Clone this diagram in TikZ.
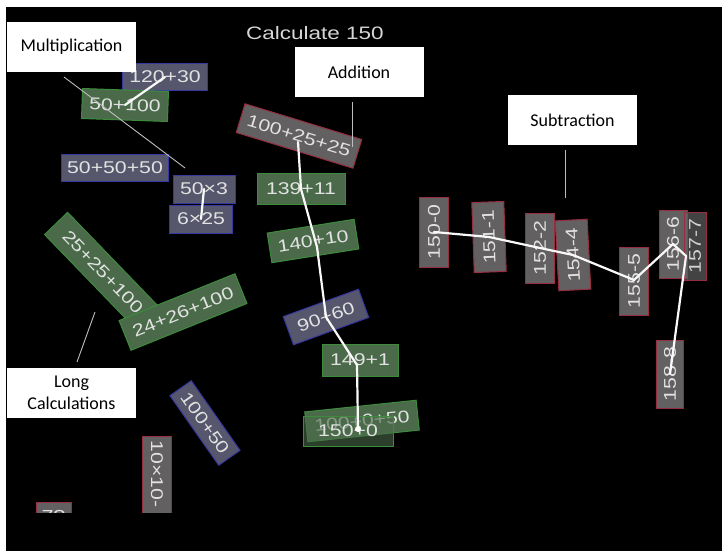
\documentclass[tikz,border=0pt]{standalone}
\usepackage{fontspec}
\usetikzlibrary{calc}
\newfontfamily\tilefont[FakeStretch=1.25]{Liberation Sans}
\newfontfamily\titlefont[FakeStretch=1.25]{Liberation Sans}
\newfontfamily\calloutfont{Carlito}
\definecolor{gfill}{RGB}{74,106,74}
\definecolor{gdraw}{RGB}{60,140,60}
\definecolor{bfill}{RGB}{86,86,108}
\definecolor{bdraw}{RGB}{55,55,160}
\definecolor{rfill}{RGB}{98,96,96}
\definecolor{rdraw}{RGB}{150,45,65}
\definecolor{tiletext}{RGB}{226,226,226}
\definecolor{titletext}{RGB}{214,214,214}
\definecolor{calloutline}{RGB}{190,190,190}
\begin{document}
\begin{tikzpicture}[x=1pt,y=-1pt,
  tile/.style={rectangle, inner xsep=4pt, inner ysep=0pt, minimum height=28pt,
    text=tiletext, line width=1pt, font=\tilefont\fontsize{17}{17}\selectfont},
  gtile/.style={tile, fill=gfill, draw=gdraw},
  btile/.style={tile, fill=bfill, draw=bdraw},
  rtile/.style={tile, fill=rfill, draw=rdraw},
  link/.style={draw=white!95!gray, line width=2.2pt, line cap=round, line join=round},
  callout/.style={rectangle, fill=white, inner sep=0pt, minimum width=129pt,
    minimum height=50pt, align=center, text=black,
    font=\calloutfont\fontsize{18}{22}\selectfont},
  pointer/.style={draw=calloutline, line width=0.9pt}]

% frame: white margin on the top and left, black camera view
\fill[white] (0,0) rectangle (722,551);
\fill[black] (6,7) rectangle (722,551);
\useasboundingbox (0,0) rectangle (722,551);

% title
\node[text=titletext, font=\titlefont\fontsize{18}{18}\selectfont] (title) at (315,33) {Calculate 150};

% multiplication group
\node[btile, minimum width=85pt, minimum height=27pt] (t120) at (165,77) {120+30};
\node[gtile, minimum width=86pt, minimum height=30pt, rotate=-2] (t50100) at (125,105) {50+100};
\node[btile, minimum width=107pt, minimum height=27pt] (t505050) at (115,168) {50+50+50};
\node[btile, minimum width=62pt] (t50x3) at (204,189) {50×3};
\node[btile, minimum width=63pt] (t6x25) at (201,219) {6×25};

% long calculations
\node[gtile, minimum width=135pt, minimum height=32pt, rotate=-46] (t252525) at (103,272) {25+25+100};
\node[gtile, minimum width=125pt, minimum height=32pt, rotate=22] (t242626) at (183,312) {24+26+100};
\node[btile, minimum width=85pt, minimum height=26pt, rotate=-55] (t10050) at (205,423) {100+50};

% tiles running off the lower edge of the view
\begin{scope}
  \clip (0,0) rectangle (722,512);
  \node[rtile, text width=92pt, align=left, minimum height=29pt, rotate=-90, anchor=west] (t1010) at (157,436) {10×10-};
  \node[rtile, minimum width=35pt, rotate=180] (t32) at (53.5,516) {32};
\end{scope}

% addition group
\node[rtile, minimum width=122pt, minimum height=30pt, rotate=-17] (t10025) at (299,136) {100+25+25};
\node[gtile, minimum width=88pt, minimum height=31pt] (t13911) at (301,189) {139+11};
\node[gtile, minimum width=88pt, minimum height=30pt, rotate=9] (t14010) at (313,241) {140+10};
\node[btile, minimum width=80pt, minimum height=30pt, rotate=20] (t9060) at (326,317) {90+60};
\node[gtile, minimum width=76pt, minimum height=32pt] (t1491) at (360,360) {149+1};
\node[gtile, minimum width=112pt, minimum height=30pt, rotate=6] (t100050) at (362,421) {100+0+50};
\node[gtile, minimum width=90pt, minimum height=30pt, fill opacity=0.6, text opacity=1] (t1500) at (348,431) {150+0};

% subtraction group
\node[rtile, minimum width=70pt, minimum height=29pt, rotate=90] (s1500) at (434,232) {150-0};
\node[rtile, minimum width=70pt, minimum height=32pt, rotate=92] (s1511) at (489,237) {151-1};
\node[rtile, minimum width=70pt, minimum height=29pt, rotate=90] (s1522) at (540,248) {152-2};
\node[rtile, minimum width=70pt, minimum height=32pt, rotate=93] (s1544) at (573,255) {154-4};
\node[rtile, minimum width=68pt, minimum height=29pt, rotate=90] (s1555) at (634,281) {155-5};
\node[rtile, minimum width=68pt, minimum height=28pt, rotate=90] (s1566) at (673,244) {156-6};
\node[rtile, minimum width=68pt, minimum height=22pt, rotate=90, fill opacity=0.7, text opacity=0.9] (s1577) at (695,246) {157-7};
\node[rtile, minimum width=68pt, minimum height=27pt, rotate=90] (s1588) at (670,374) {158-8};

% chains linking the tiles
\draw[link] (t120.center) -- (t50100.center);
\draw[link] (t50x3.center) -- (t6x25.center);
\draw[link] ($(t10025.center)+(-1,6)$) -- (t13911.center) -- ($(t14010.center)+(4,6)$)
  -- (t9060.center) -- ($(t1491.center)+(-3,5)$) -- ($(t1500.center)+(10,-2)$);
\fill[white] ($(t1500.center)+(10,-2)$) circle (3pt);
\draw[link] (s1500.center) -- (s1511.center) -- (s1522.center) -- (s1544.center)
  -- ($(s1555.center)+(0,-1)$) -- (s1566.center) -- ($(s1577.center)+(-9,10)$) -- (s1588.center);

% callouts
\node[callout] (mult) at (71.5,47) {Multiplication};
\node[callout] (add) at (359,72) {Addition};
\node[callout] (sub) at (572.5,120) {Subtraction};
\node[callout] (long) at (71.5,393) {Long\\Calculations};

\coordinate (multA) at (64,77);
\coordinate (multB) at (185,168);
\coordinate (addA) at (352,102);
\coordinate (addB) at (352,147);
\coordinate (subA) at (565,150);
\coordinate (subB) at (565,198);
\coordinate (longA) at (77,362);
\coordinate (longB) at (95,312);
\draw[pointer] (multA) -- (multB);
\draw[pointer] (addA) -- (addB);
\draw[pointer] (subA) -- (subB);
\draw[pointer] (longA) -- (longB);
\end{tikzpicture}
\end{document}
